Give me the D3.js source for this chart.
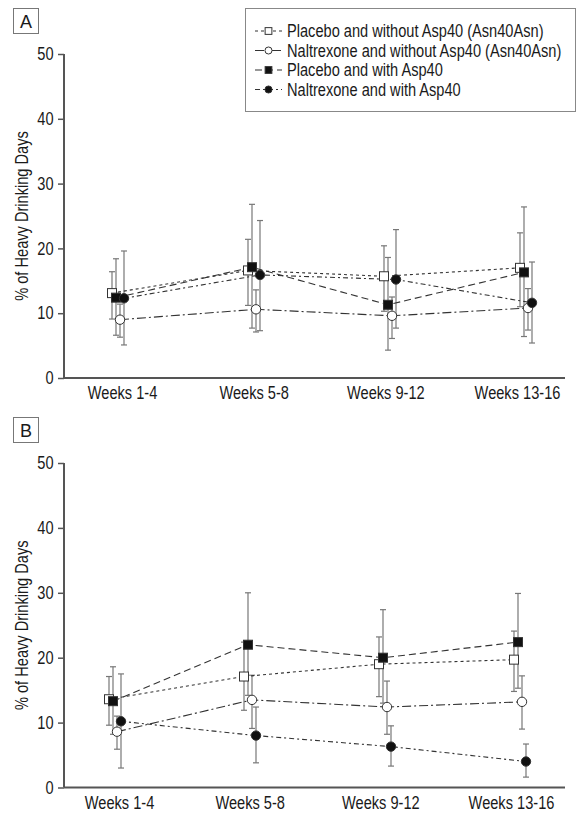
<!DOCTYPE html>
<html><head><meta charset="utf-8">
<script src="https://cdn.jsdelivr.net/npm/d3@7"></script>
<style>
body{margin:0;background:#fff}
svg{display:block}
text{font-family:"Liberation Sans",Arial,sans-serif;fill:#1a1a1a}
</style>
</head><body><svg id="c" width="581" height="820"></svg>
<script>
const weeks = ["Weeks 1-4", "Weeks 5-8", "Weeks 9-12", "Weeks 13-16"];
const seriesNames = [
  "Placebo and without Asp40 (Asn40Asn)",
  "Naltrexone and without Asp40 (Asn40Asn)",
  "Placebo and with Asp40",
  "Naltrexone and with Asp40"
];
const yTicks = [0, 10, 20, 30, 40, 50];
const panelLabels = ["A", "B"];
const yLabel = "% of Heavy Drinking Days";

// Panel A
const aPlaceboWithout = [13.1, 16.6, 15.7, 17.0];
const aPlaceboWithoutLo = [9.1, 11.2, 10.3, 11.0];
const aPlaceboWithoutHi = [16.4, 21.4, 20.4, 22.4];
const aNaltrexoneWithout = [9.0, 10.6, 9.6, 10.8];
const aNaltrexoneWithoutLo = [6.3, 7.1, 6.1, 7.4];
const aNaltrexoneWithoutHi = [11.4, 13.6, 12.5, 13.8];
const aPlaceboWith = [12.4, 17.1, 11.3, 16.3];
const aPlaceboWithLo = [6.6, 7.7, 4.3, 6.4];
const aPlaceboWithHi = [18.4, 26.8, 18.6, 26.4];
const aNaltrexoneWith = [12.3, 15.9, 15.2, 11.6];
const aNaltrexoneWithLo = [5.1, 7.3, 7.7, 5.4];
const aNaltrexoneWithHi = [19.6, 24.3, 22.9, 17.9];

// Panel B
const bPlaceboWithout = [13.6, 17.1, 19.0, 19.7];
const bPlaceboWithoutLo = [9.6, 11.9, 14.0, 14.8];
const bPlaceboWithoutHi = [17.1, 22.4, 23.2, 24.1];
const bNaltrexoneWithout = [8.6, 13.5, 12.4, 13.2];
const bNaltrexoneWithoutLo = [5.9, 9.1, 8.2, 9.0];
const bNaltrexoneWithoutHi = [11.0, 17.3, 16.4, 17.2];
const bPlaceboWith = [13.3, 22.0, 20.0, 22.4];
const bPlaceboWithLo = [8.2, 14.2, 13.0, 15.3];
const bPlaceboWithHi = [18.6, 30.0, 27.4, 29.9];
const bNaltrexoneWith = [10.2, 8.0, 6.3, 4.0];
const bNaltrexoneWithLo = [3.0, 3.8, 3.3, 1.6];
const bNaltrexoneWithHi = [17.5, 12.4, 9.5, 6.7];

// styles per series (legend order)
const styles = [
  {shape: "square", fill: "#fff", dash: "3,3", off: -6},
  {shape: "circle", fill: "#fff", dash: "9,3,2,3", off: 2},
  {shape: "square", fill: "#111", dash: "7,4", off: -2},
  {shape: "circle", fill: "#111", dash: "5,3,2,3", off: 6}
];

const panels = [
  {label: panelLabels[0], top: 54, bottom: 378, xr: [118, 526], boxY: 8,
   series: [
    {m: aPlaceboWithout, lo: aPlaceboWithoutLo, hi: aPlaceboWithoutHi},
    {m: aNaltrexoneWithout, lo: aNaltrexoneWithoutLo, hi: aNaltrexoneWithoutHi},
    {m: aPlaceboWith, lo: aPlaceboWithLo, hi: aPlaceboWithHi},
    {m: aNaltrexoneWith, lo: aNaltrexoneWithLo, hi: aNaltrexoneWithHi}
   ]},
  {label: panelLabels[1], top: 463, bottom: 787.5, xr: [115, 520], boxY: 417,
   series: [
    {m: bPlaceboWithout, lo: bPlaceboWithoutLo, hi: bPlaceboWithoutHi},
    {m: bNaltrexoneWithout, lo: bNaltrexoneWithoutLo, hi: bNaltrexoneWithoutHi},
    {m: bPlaceboWith, lo: bPlaceboWithLo, hi: bPlaceboWithHi},
    {m: bNaltrexoneWith, lo: bNaltrexoneWithLo, hi: bNaltrexoneWithHi}
   ]}
];

const NARROW = 0.835;   // horizontal compression to imitate a condensed face
const FS = "17.5px";
const svg = d3.select("#c");
const axisX0 = 64, axisX1 = 565;
const axisColor = "#555";

function narrowText(g, x, y, str, anchor, extra) {
  return g.append("text")
    .attr("transform", `translate(${x},${y})${extra || ""} scale(${NARROW},1)`)
    .attr("text-anchor", anchor).style("font-size", FS).text(str);
}

function marker(g, shape, fill, cx, cy, k) {
  k = k || 1;
  if (shape === "square") {
    const h = 4.5 * k;
    g.append("rect").attr("x", cx - h).attr("y", cy - h).attr("width", 2 * h).attr("height", 2 * h)
      .attr("fill", fill).attr("stroke", "#333").attr("stroke-width", 1);
  } else {
    g.append("circle").attr("cx", cx).attr("cy", cy).attr("r", 4.7 * k)
      .attr("fill", fill).attr("stroke", "#333").attr("stroke-width", 1);
  }
}

panels.forEach(p => {
  const g = svg.append("g");
  const y = d3.scaleLinear().domain([0, 50]).range([p.bottom, p.top]);
  const x = d3.scalePoint().domain(weeks).range(p.xr);
  const xl = d3.scalePoint().domain(weeks).range([p.xr[0] + 4, p.xr[1] - 9]);

  // panel letter box
  g.append("rect").attr("x", 13.5).attr("y", p.boxY + 0.5).attr("width", 25).attr("height", 25)
    .attr("fill", "#fff").attr("stroke", "#777").attr("stroke-width", 1);
  g.append("text").attr("x", 26).attr("y", p.boxY + 19.5).attr("text-anchor", "middle")
    .style("font-size", "18px").text(p.label);

  // y axis
  const ya = g.append("g").attr("transform", `translate(${axisX0},0)`)
    .call(d3.axisLeft(y).tickValues(yTicks).tickSize(6).tickPadding(4));
  ya.select(".domain").attr("stroke", axisColor).attr("stroke-width", 2)
    .attr("d", `M0,${p.top}V${p.bottom}`);
  ya.selectAll(".tick line").attr("stroke", axisColor).attr("stroke-width", 1.5);
  ya.selectAll(".tick text").style("font-size", FS).attr("fill", "#1a1a1a")
    .attr("x", -10.5 / NARROW).attr("transform", `scale(${NARROW},1)`);

  // x axis
  const xa = g.append("g").attr("transform", `translate(0,${p.bottom})`)
    .call(d3.axisBottom(xl).tickSize(0).tickPadding(9));
  xa.select(".domain").attr("stroke", axisColor).attr("stroke-width", 2)
    .attr("d", `M${axisX0},0H${axisX1}`);
  xa.selectAll(".tick text").style("font-size", FS).attr("fill", "#1a1a1a")
    .attr("transform", `scale(${NARROW},1)`);

  // y label
  narrowText(g, 28, (p.top + p.bottom) / 2, yLabel, "middle", " rotate(-90)");

  // error bars
  p.series.forEach((s, i) => {
    const st = styles[i];
    weeks.forEach((w, j) => {
      const cx = x(w) + st.off;
      g.append("line").attr("x1", cx).attr("x2", cx).attr("y1", y(s.lo[j])).attr("y2", y(s.hi[j]))
        .attr("stroke", "#777").attr("stroke-width", 1.2);
      [s.lo[j], s.hi[j]].forEach(v => {
        g.append("line").attr("x1", cx - 3).attr("x2", cx + 3).attr("y1", y(v)).attr("y2", y(v))
          .attr("stroke", "#777").attr("stroke-width", 1.2);
      });
    });
  });

  // lines
  p.series.forEach((s, i) => {
    const st = styles[i];
    const line = d3.line().x((d, j) => x(weeks[j]) + st.off).y(d => y(d));
    g.append("path").attr("d", line(s.m)).attr("fill", "none")
      .attr("stroke", "#333").attr("stroke-width", 1.1).attr("stroke-dasharray", st.dash);
  });

  // markers
  p.series.forEach((s, i) => {
    const st = styles[i];
    s.m.forEach((v, j) => marker(g, st.shape, st.fill, x(weeks[j]) + st.off, y(v)));
  });
});

// legend
const lg = svg.append("g");
lg.append("rect").attr("x", 245.5).attr("y", 8.5).attr("width", 330).attr("height", 103)
  .attr("fill", "#fff").attr("stroke", "#888").attr("stroke-width", 1);
seriesNames.forEach((name, i) => {
  const st = styles[i];
  const cy = 31 + i * 19.5;
  lg.append("line").attr("x1", 255).attr("x2", 282).attr("y1", cy).attr("y2", cy)
    .attr("stroke", "#333").attr("stroke-width", 1.1).attr("stroke-dasharray", st.dash);
  marker(lg, st.shape, st.fill, 268.5, cy, 0.75);
  narrowText(lg, 287, cy + 6, name, "start");
});
</script>
</body></html>
